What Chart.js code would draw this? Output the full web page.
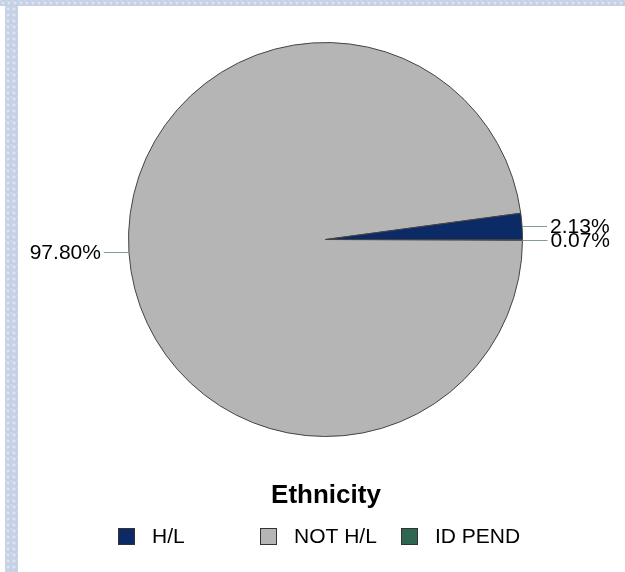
<!DOCTYPE html>
<html>
<head>
<meta charset="utf-8">
<script src="https://cdn.jsdelivr.net/npm/chart.js@4/dist/chart.umd.min.js"></script>
<style>
  html, body { margin: 0; padding: 0; background: #fff; width: 625px; height: 572px; overflow: hidden; }
  .tex {
    position: absolute;
    background-color: #c5d0e4;
    background-image:
      radial-gradient(circle at 3px 3px, #dbe3f0 1px, transparent 2.2px),
      radial-gradient(circle at 0px 0px, #d2dbec 1px, transparent 2px);
    background-size: 6px 6px, 6px 6px;
  }
  #top { left: 0; top: 0; width: 625px; height: 6px; }
  #left { left: 5px; top: 6px; width: 13px; height: 566px; }
  #grafico { position: absolute; left: 18px; top: 6px; }
</style>
</head>
<body>
<div class="tex" id="top"></div>
<div class="tex" id="left"></div>
<canvas id="grafico" width="607" height="566"></canvas>
<script>
const categorias = ['H/L', 'NOT H/L', 'ID PEND'];
const percentuais = [2.13, 97.80, 0.07];
const cores = ['#0b2a66', '#b5b5b5', '#2e6652'];
const titulo = 'Ethnicity';

// a fatia desenha no sentido anti-horario a partir das 3h, entao invertemos a ordem
const ordem = [2, 1, 0];

const rotulosFatias = {
    id: 'rotulosFatias',
    afterDatasetsDraw(chart) {
        const ctx = chart.ctx;
        const meta = chart.getDatasetMeta(0);
        ctx.save();
        ctx.font = '21px "Liberation Sans", Arial, sans-serif';
        ctx.textBaseline = 'middle';
        meta.data.forEach((arc, i) => {
            const p = arc.getProps(['x', 'y', 'startAngle', 'endAngle', 'outerRadius'], true);
            const meio = (p.startAngle + p.endAngle) / 2;
            const x0 = p.x + Math.cos(meio) * p.outerRadius;
            const y0 = p.y + Math.sin(meio) * p.outerRadius;
            const dir = Math.cos(meio) >= 0 ? 1 : -1;
            const x1 = x0 + dir * 25;
            ctx.strokeStyle = '#7a9e9c';
            ctx.lineWidth = 1;
            ctx.beginPath();
            ctx.moveTo(x0, Math.round(y0) + 0.5);
            ctx.lineTo(x1, Math.round(y0) + 0.5);
            ctx.stroke();
            ctx.fillStyle = '#000';
            ctx.textAlign = dir > 0 ? 'left' : 'right';
            const valor = chart.data.datasets[0].data[i];
            ctx.fillText(valor.toFixed(2) + '%', x1 + dir * 3, y0 + 1);
        });
        ctx.restore();
    }
};

const legendaPropria = {
    id: 'legendaPropria',
    afterDraw(chart) {
        const ctx = chart.ctx;
        ctx.save();
        ctx.fillStyle = '#000';
        ctx.textAlign = 'center';
        ctx.textBaseline = 'middle';
        ctx.font = 'bold 26px "Liberation Sans", Arial, sans-serif';
        ctx.fillText(titulo, 308, 490);
        ctx.font = '21px "Liberation Sans", Arial, sans-serif';
        ctx.textAlign = 'left';
        const colunas = [100, 242, 383];
        categorias.forEach((c, i) => {
            const x = colunas[i];
            ctx.fillStyle = cores[i];
            ctx.fillRect(x, 522, 17, 17);
            ctx.strokeStyle = '#333';
            ctx.lineWidth = 1;
            ctx.strokeRect(x + 0.5, 522.5, 16, 16);
            ctx.fillStyle = '#000';
            ctx.fillText(c, x + 34, 531);
        });
        ctx.restore();
    }
};

new Chart(document.getElementById('grafico'), {
    type: 'pie',
    data: {
        labels: ordem.map(i => categorias[i]),
        datasets: [{
            data: ordem.map(i => percentuais[i]),
            backgroundColor: ordem.map(i => cores[i]),
            borderColor: '#444',
            borderWidth: 1
        }]
    },
    options: {
        responsive: false,
        animation: false,
        rotation: 90,
        layout: { padding: { left: 110, top: 36, right: 102, bottom: 135 } },
        plugins: {
            legend: { display: false },
            tooltip: { enabled: false }
        }
    },
    plugins: [rotulosFatias, legendaPropria]
});
</script>
</body>
</html>
